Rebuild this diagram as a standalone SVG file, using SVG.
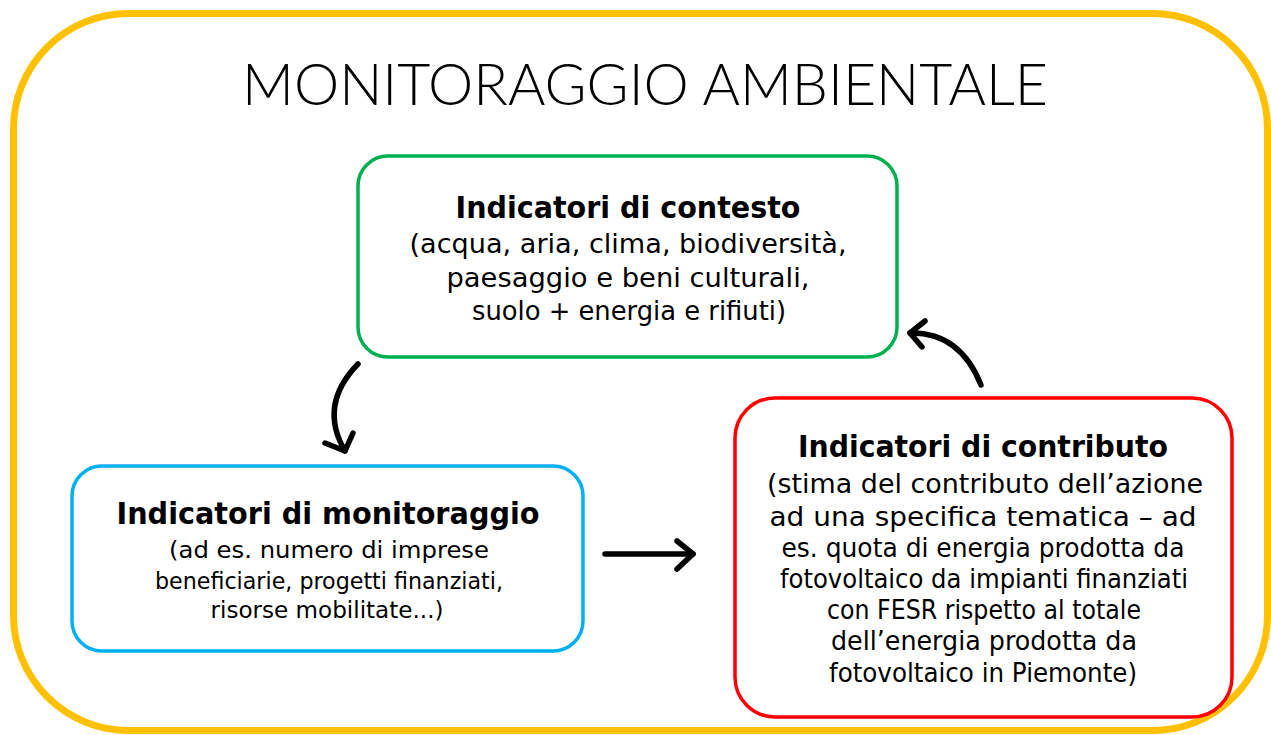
<svg xmlns="http://www.w3.org/2000/svg" width="1271" height="735" viewBox="0 0 1271 735">
<style>
.t{font-family:"DejaVu Sans","Liberation Sans",sans-serif;fill:#000;text-anchor:middle}
.h{font-weight:bold;font-size:30px}
.b{font-size:26px}
.bs{font-size:23px}
.title{font-family:"Lato","DejaVu Sans",sans-serif;font-weight:300;font-size:57px;fill:#000;text-anchor:middle}
.box{fill:#fff;stroke-width:3.5}
.arr{fill:none;stroke:#000;stroke-width:5.5;stroke-linecap:round;stroke-linejoin:round}
</style>
<rect width="1271" height="735" fill="#fff"/>
<g id="frame">
<rect x="13.5" y="13.5" width="1254" height="717" rx="115" fill="none" stroke="#FFC000" stroke-width="7"/>
<text class="title" x="645" y="105" textLength="806" lengthAdjust="spacingAndGlyphs">MONITORAGGIO AMBIENTALE</text>
</g>
<g id="contesto">
<rect class="box" x="358" y="156" width="539" height="201" rx="30" stroke="#00B050"/>
<text class="t h" x="628" y="218" textLength="345" lengthAdjust="spacingAndGlyphs">Indicatori di contesto</text>
<text class="t b" x="628" y="253" textLength="437" lengthAdjust="spacingAndGlyphs">(acqua, aria, clima, biodiversità,</text>
<text class="t b" x="628" y="287" textLength="363" lengthAdjust="spacingAndGlyphs">paesaggio e beni culturali,</text>
<text class="t b" x="629" y="320" textLength="314" lengthAdjust="spacingAndGlyphs">suolo + energia e rifiuti)</text>
</g>
<g id="monitoraggio">
<rect class="box" x="72" y="466" width="511" height="185" rx="30" stroke="#00B0F0"/>
<text class="t h" x="328" y="524" textLength="423" lengthAdjust="spacingAndGlyphs">Indicatori di monitoraggio</text>
<text class="t bs" x="329" y="558" textLength="320" lengthAdjust="spacingAndGlyphs">(ad es. numero di imprese</text>
<text class="t bs" x="329" y="589" textLength="348" lengthAdjust="spacingAndGlyphs">beneficiarie, progetti finanziati,</text>
<text class="t bs" x="327" y="618" textLength="233" lengthAdjust="spacingAndGlyphs">risorse mobilitate...)</text>
</g>
<g id="contributo">
<rect class="box" x="735" y="398" width="497" height="319" rx="40" stroke="#FF0000"/>
<text class="t h" x="983" y="457" textLength="370" lengthAdjust="spacingAndGlyphs">Indicatori di contributo</text>
<text class="t b" x="985" y="493" textLength="436" lengthAdjust="spacingAndGlyphs">(stima del contributo dell’azione</text>
<text class="t b" x="983" y="526" textLength="427" lengthAdjust="spacingAndGlyphs">ad una specifica tematica – ad</text>
<text class="t b" x="983" y="557" textLength="403" lengthAdjust="spacingAndGlyphs">es. quota di energia prodotta da</text>
<text class="t b" x="984" y="588" textLength="408" lengthAdjust="spacingAndGlyphs">fotovoltaico da impianti finanziati</text>
<text class="t b" x="984" y="619" textLength="314" lengthAdjust="spacingAndGlyphs">con FESR rispetto al totale</text>
<text class="t b" x="984" y="650" textLength="306" lengthAdjust="spacingAndGlyphs">dell’energia prodotta da</text>
<text class="t b" x="983" y="682" textLength="308" lengthAdjust="spacingAndGlyphs">fotovoltaico in Piemonte)</text>
</g>
<g id="connectors">
<path class="arr" d="M358 364 Q318 405 345 451"/>
<path class="arr" d="M325 443 L345 451 L353 433"/>
<path class="arr" d="M605 554 L693 554"/>
<path class="arr" d="M677 541 L693 554 L677 569"/>
<path class="arr" d="M981 385 Q960 332 910 333"/>
<path class="arr" d="M925 321 L910 333 L922 347"/>
</g>
</svg>
